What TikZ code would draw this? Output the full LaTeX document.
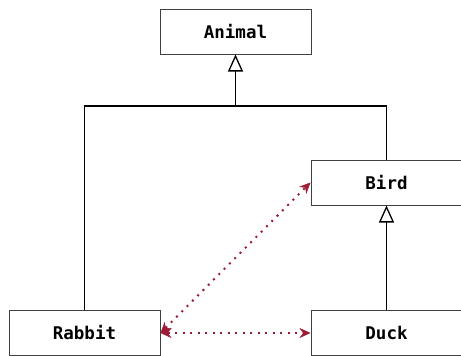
\documentclass[tikz,border=0pt]{standalone}
\usepackage{fontspec}
\setmonofont{DejaVu Sans Mono}
\usetikzlibrary{arrows.meta}
\definecolor{assoccol}{RGB}{155,28,52}
\begin{document}
\begin{tikzpicture}[x=1pt,y=-1pt,
  cls/.style={draw=black!75, line width=1pt, fill=white, minimum width=151pt, minimum height=45pt, inner sep=0pt,
    font=\ttfamily\bfseries\fontsize{17.5}{19}\selectfont},
  edge/.style={draw=black, line width=1.6pt},
  inh/.style={edge, -{Triangle[open, length=17pt, width=15pt, line width=1.3pt]}},
  assoc/.style={draw=assoccol, line width=2pt, dash pattern=on 2pt off 5.5pt,
    {Stealth[length=11pt, width=10pt, line width=0.5pt]}-{Stealth[length=11pt, width=10pt, line width=0.5pt]}}]
\useasboundingbox (0,0) rectangle (461,356);
\clip (0,0) rectangle (461,356);
\node[cls] (animal) at (235.5,31.5) {Animal};
\node[cls] (bird) at (386.5,182.5) {Bird};
\node[cls] (rabbit) at (84.5,333) {Rabbit};
\node[cls] (duck) at (386.5,333) {Duck};
\coordinate (j) at (235.5,106);
\draw[inh] (j) -- (animal.south);
\draw[edge] (rabbit.north) |- (j) -| (bird.north);
\draw[inh] (duck.north) -- (bird.south);
\draw[assoc] (rabbit.east) -- (bird.west);
\draw[assoc] (rabbit.east) -- (duck.west);
\end{tikzpicture}
\end{document}
